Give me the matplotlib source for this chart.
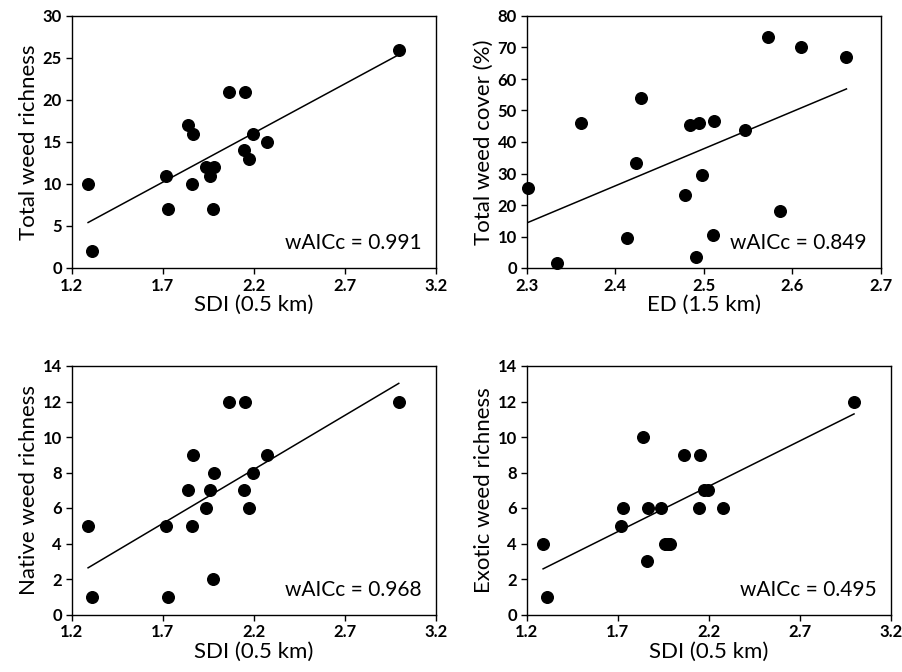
import numpy as np
import matplotlib
matplotlib.use('Agg')
import matplotlib.pyplot as plt

plt.rcParams['font.family'] = ['Lato', 'DejaVu Sans']

# SDI (0.5 km) for the 18 sites
sdi = [1.290, 1.314, 1.716, 1.731, 1.841, 1.867, 1.859, 1.936, 1.958,
       1.984, 1.978, 2.066, 2.154, 2.145, 2.176, 2.198, 2.275, 2.997]
total_richness = [10, 2, 11, 7, 17, 16, 10, 12, 11, 12, 7, 21, 21, 14, 13, 16, 15, 26]
native_richness = [5, 1, 5, 1, 7, 9, 5, 6, 7, 8, 2, 12, 12, 7, 6, 8, 9, 12]
exotic_richness = [4, 1, 5, 6, 10, 6, 3, 6, 4, 4, 4, 9, 9, 6, 7, 7, 6, 12]

# ED (1.5 km) vs total weed cover
ed = [2.302, 2.334, 2.361, 2.413, 2.423, 2.429, 2.479, 2.484, 2.495,
      2.491, 2.498, 2.511, 2.510, 2.547, 2.572, 2.586, 2.610, 2.661]
total_cover = [25.3, 1.6, 46.1, 9.5, 33.2, 54.0, 23.3, 45.5, 46.1,
               3.6, 29.4, 46.7, 10.6, 43.8, 73.3, 18.0, 70.1, 66.9]

W, H = 903, 672
fig = plt.figure(figsize=(W / 100, H / 100), dpi=100)


def add_ax(left, right, top, bottom):
    return fig.add_axes([left / W, 1 - bottom / H, (right - left) / W, (bottom - top) / H])


panels = [
    (add_ax(71.7, 435.7, 16, 268), sdi, total_richness, 'SDI (0.5 km)', 'Total weed richness',
     (1.2, 3.2), np.arange(1.2, 3.21, 0.5), (0, 30), np.arange(0, 31, 5), 'wAICc = 0.991'),
    (add_ax(526.7, 881, 16, 268), ed, total_cover, 'ED (1.5 km)', 'Total weed cover (%)',
     (2.3, 2.7), np.arange(2.3, 2.71, 0.1), (0, 80), np.arange(0, 81, 10), 'wAICc = 0.849'),
    (add_ax(71.7, 435.7, 366, 614.5), sdi, native_richness, 'SDI (0.5 km)', 'Native weed richness',
     (1.2, 3.2), np.arange(1.2, 3.21, 0.5), (0, 14), np.arange(0, 15, 2), 'wAICc = 0.968'),
    (add_ax(526.7, 891, 366, 614.5), sdi, exotic_richness, 'SDI (0.5 km)', 'Exotic weed richness',
     (1.2, 3.2), np.arange(1.2, 3.21, 0.5), (0, 14), np.arange(0, 15, 2), 'wAICc = 0.495'),
]

for ax, x, y, xlab, ylab, xlim, xt, ylim, yt, txt in panels:
    x = np.array(x)
    y = np.array(y)
    ax.scatter(x, y, s=70, color='black', zorder=3, clip_on=False)
    # least-squares fit line across the data range
    b, a = np.polyfit(x, y, 1)
    xs = np.array([x.min(), x.max()])
    ax.plot(xs, a + b * xs, color='black', lw=1.1)
    ax.set_xlim(*xlim)
    ax.set_ylim(*ylim)
    ax.set_xticks(xt)
    ax.set_xticklabels(['%.1f' % v for v in xt], fontweight='bold')
    ax.set_yticks(yt)
    ax.set_yticklabels(['%d' % v for v in yt], fontweight='bold')
    ax.tick_params(direction='out', length=4, width=1, labelsize=12, pad=3)
    ax.set_xlabel(xlab, fontsize=16, labelpad=1)
    ax.set_ylabel(ylab, fontsize=16, labelpad=3)
    for sp in ax.spines.values():
        sp.set_linewidth(1.0)
    ax.text(0.96, 0.06, txt, transform=ax.transAxes, ha='right', va='bottom', fontsize=15)

fig.savefig('out.png', dpi=100)
